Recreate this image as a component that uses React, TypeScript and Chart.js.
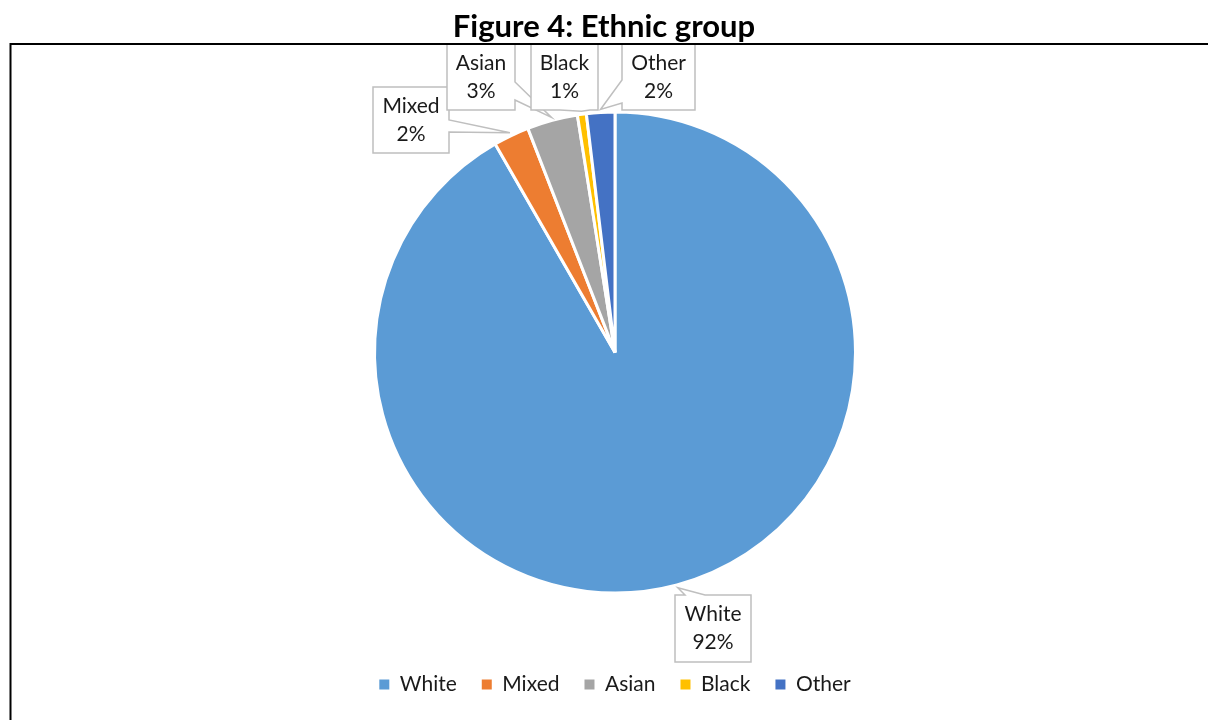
import { useEffect, useRef } from "react";
import { Chart, registerables } from "chart.js";

Chart.register(...registerables);

const categories = ["White", "Mixed", "Asian", "Black", "Other"];
const shares = [91.7, 2.4, 3.4, 0.6, 1.9];
const sliceColors = ["#5B9BD5", "#ED7D31", "#A5A5A5", "#FFC000", "#4472C4"];
const titleText = "Figure 4: Ethnic group";

// Callout box layout (pixel geometry only, one per category in the same order)
const calloutBoxes = [
  { l: 675, t: 595, r: 751, b: 662, edge: "top", a: 685, z: 705 },
  { l: 373, t: 87, r: 449, b: 153, edge: "right", a: 120, z: 132 },
  { l: 447, t: 44, r: 515, b: 110, edge: "right", a: 82, z: 100 },
  { l: 531, t: 44, r: 598, b: 110, edge: "bottom", a: 560, z: 590 },
  { l: 622, t: 44, r: 695, b: 110, edge: "left", a: 80, z: 103 },
];

const FONT = "Lato, 'Open Sans', sans-serif";

const calloutPlugin = {
  id: "callouts",
  afterDatasetsDraw(chart: any) {
    const ctx = chart.ctx;
    const meta = chart.getDatasetMeta(0);
    const data = chart.data.datasets[0].data as number[];
    const total = data.reduce((s, v) => s + v, 0);
    ctx.save();
    meta.data.forEach((arc: any, i: number) => {
      const p = arc.getProps(["x", "y", "startAngle", "endAngle", "outerRadius"], true);
      const mid = (p.startAngle + p.endAngle) / 2;
      const tx = p.x + Math.cos(mid) * (p.outerRadius + 3);
      const ty = p.y + Math.sin(mid) * (p.outerRadius + 3);
      const bx = calloutBoxes[i];
      const { l, t, r, b, edge, a, z } = bx;
      const pts: [number, number][] = [];
      pts.push([l, t]);
      if (edge === "top") pts.push([a, t], [tx, ty], [z, t]);
      pts.push([r, t]);
      if (edge === "right") pts.push([r, a], [tx, ty], [r, z]);
      pts.push([r, b]);
      if (edge === "bottom") pts.push([z, b], [tx, ty], [a, b]);
      pts.push([l, b]);
      if (edge === "left") pts.push([l, z], [tx, ty], [l, a]);
      ctx.beginPath();
      pts.forEach(([x, y], k) => (k === 0 ? ctx.moveTo(x, y) : ctx.lineTo(x, y)));
      ctx.closePath();
      ctx.fillStyle = "#FFFFFF";
      ctx.fill();
      ctx.strokeStyle = "#BFBFBF";
      ctx.lineWidth = 1.5;
      ctx.stroke();
      const cx = (l + r) / 2;
      const cy = (t + b) / 2;
      ctx.fillStyle = "#1A1A1A";
      ctx.font = `21px ${FONT}`;
      ctx.textAlign = "center";
      ctx.textBaseline = "middle";
      ctx.fillText(chart.data.labels[i], cx, cy - 14);
      ctx.fillText(Math.round((data[i] / total) * 100) + "%", cx, cy + 14);
    });
    ctx.restore();
  },
};

const framePlugin = {
  id: "frame",
  afterDraw(chart: any) {
    const ctx = chart.ctx;
    ctx.save();
    ctx.fillStyle = "#000000";
    ctx.font = `bold 31px ${FONT}`;
    ctx.textAlign = "center";
    ctx.textBaseline = "middle";
    ctx.fillText(titleText, chart.width / 2, 27);
    ctx.strokeStyle = "#000000";
    ctx.lineWidth = 2;
    ctx.strokeRect(10.5, 44, 1300, 800);
    ctx.restore();
  },
};

export default function App() {
  const ref = useRef<HTMLCanvasElement | null>(null);
  useEffect(() => {
    if (!ref.current) return;
    const chart = new Chart(ref.current, {
      type: "pie",
      data: {
        labels: categories,
        datasets: [
          {
            data: shares,
            backgroundColor: sliceColors,
            borderColor: "#FFFFFF",
            borderWidth: 3,
            radius: 240.5,
          } as any,
        ],
      },
      options: {
        responsive: false,
        animation: false,
        events: [],
        layout: { padding: { left: 22, right: 0, top: 56, bottom: 15 } },
        plugins: {
          tooltip: { enabled: false },
          title: { display: false },
          legend: {
            display: true,
            position: "bottom",
            labels: {
              boxWidth: 10,
              boxHeight: 10,
              padding: 25,
              color: "#1A1A1A",
              font: { family: FONT, size: 21 },
              generateLabels: (c: any) =>
                (Chart as any).overrides.pie.plugins.legend.labels
                  .generateLabels(c)
                  .map((it: any) => ({ ...it, lineWidth: 0, strokeStyle: it.fillStyle })),
            },
          },
        },
      } as any,
      plugins: [calloutPlugin, framePlugin],
    });
    return () => chart.destroy();
  }, []);
  return (
    <div style={{ position: "absolute", left: 0, top: 0, width: 1208, height: 720 }}>
      <canvas ref={ref} width={1208} height={720} style={{ display: "block" }} />
    </div>
  );
}
